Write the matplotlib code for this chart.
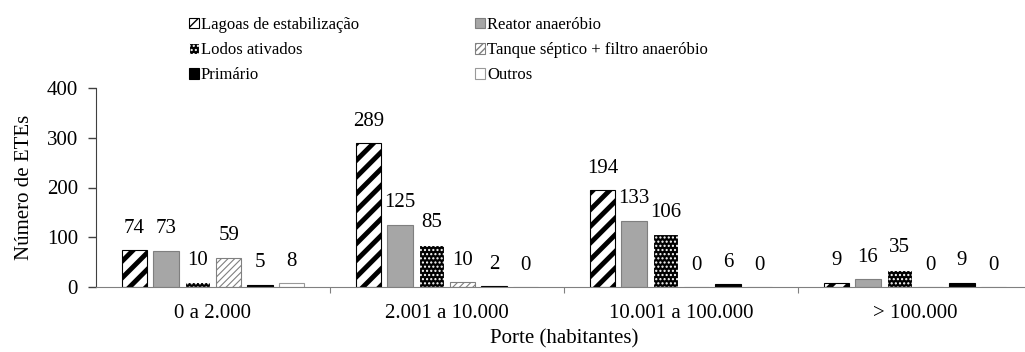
import numpy as np
import matplotlib
matplotlib.use('Agg')
import matplotlib.pyplot as plt
from matplotlib.patches import Patch

plt.rcParams['font.family'] = ['Liberation Serif', 'DejaVu Serif']

groups = ['0 a 2.000', '2.001 a 10.000', '10.001 a 100.000', '> 100.000']
series = ['Lagoas de estabilização', 'Reator anaeróbio', 'Lodos ativados',
          'Tanque séptico + filtro anaeróbio', 'Primário', 'Outros']
lagoas = [74, 289, 194, 9]
reator = [73, 125, 133, 16]
lodos = [10, 85, 106, 35]
tanque = [59, 10, 0, 0]
primario = [5, 2, 6, 9]
outros = [8, 0, 0, 0]
values = [lagoas, reator, lodos, tanque, primario, outros]

# face, edge, hatch, hatch linewidth
styles = [
    ('white', 'black', '//', 3.5),
    ('#a6a6a6', '#7f7f7f', '', 1.0),
    ('black', 'white', '....', 1.0),
    ('white', '#808080', '/////', 0.8),
    ('black', 'black', '', 1.0),
    ('white', '#999999', '', 1.0),
]

fs = 15

fig = plt.figure(figsize=(10.25, 3.52), dpi=100)
ax = fig.add_axes([96/1025, 65/352, 936/1025, 199/352])

x = np.arange(len(groups))
pitch = 0.134
width = 0.109
handles = []
for i, (vals, st) in enumerate(zip(values, styles)):
    fc, ec, hatch, hlw = st
    pos = x + (i - 2.5) * pitch
    with plt.rc_context({'hatch.linewidth': hlw}):
        bars = ax.bar(pos, vals, width, color=fc, edgecolor=ec, hatch=hatch,
                      linewidth=0.8)
        for b in bars:
            if hasattr(b, 'set_hatch_linewidth'):
                b.set_hatch_linewidth(hlw)
        h = Patch(facecolor=fc, edgecolor=ec, hatch=hatch, linewidth=0.8)
        if hasattr(h, 'set_hatch_linewidth'):
            h.set_hatch_linewidth(min(hlw, 1.5))
    handles.append(h)
    for p, v in zip(pos, vals):
        ax.annotate(str(v), (p, v), xytext=(0, 9), textcoords='offset points',
                    ha='center', va='bottom', fontsize=fs)

ax.set_xlim(-0.5, 3.5)
ax.set_ylim(0, 400)
ax.set_yticks([0, 100, 200, 300, 400])
ax.tick_params(axis='y', labelsize=fs, length=6, width=1, color='#404040', pad=7)
ax.set_xticks([0.5, 1.5, 2.5])
ax.set_xticklabels([])
ax.set_xticks(x, minor=True)
ax.set_xticklabels(groups, minor=True, fontsize=fs)
ax.tick_params(axis='x', which='major', length=4, color='#808080')
ax.tick_params(axis='x', which='minor', length=0, pad=12)
ax.spines['top'].set_visible(False)
ax.spines['right'].set_visible(False)
ax.spines['left'].set_color('#404040')
ax.spines['bottom'].set_color('#808080')
ax.set_ylabel('Número de ETEs', fontsize=fs, labelpad=9)
ax.set_xlabel('Porte (habitantes)', fontsize=fs, labelpad=5)

order = [0, 2, 4, 1, 3, 5]
fig.legend([handles[k] for k in order], [series[k] for k in order],
           ncol=2, loc='upper left', bbox_to_anchor=(189/1025, 1 - 17/352),
           frameon=False, fontsize=12, handlelength=0.6, handleheight=0.6,
           handletextpad=0.1, labelspacing=0.55, columnspacing=7.0,
           borderpad=0, borderaxespad=0)

fig.savefig('out.png', dpi=100)
